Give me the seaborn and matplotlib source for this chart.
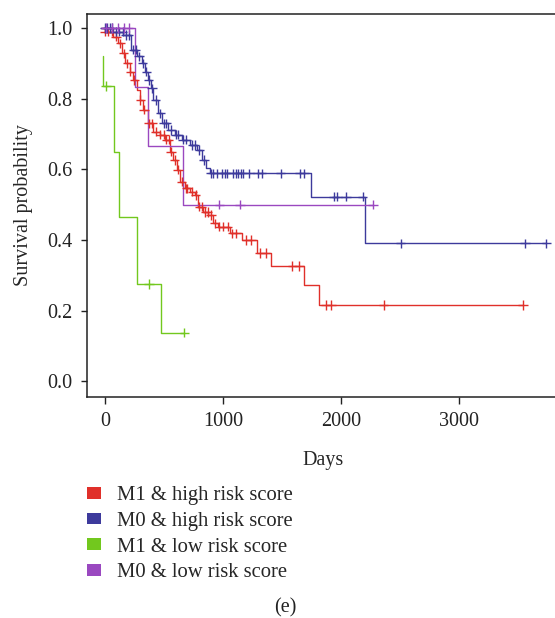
import numpy as np
import pandas as pd
import seaborn as sns
import matplotlib.pyplot as plt
from matplotlib.patches import Patch

groups = ["M1 & high risk score", "M0 & high risk score", "M1 & low risk score", "M0 & low risk score"]
colors = ["#E0302A", "#3D3A9C", "#72C81E", "#9A48C0"]

# step points (day, survival)
red_days = [-30, 0, 70, 113, 141, 169, 212, 240, 268, 297, 325, 367, 409, 466, 508, 551, 579, 613, 636, 678,
            720, 763, 791, 833, 875, 918, 960, 1059, 1158, 1292, 1412, 1690, 1819, 3545]
red_surv = [1.0, 0.99, 0.976, 0.957, 0.929, 0.90, 0.877, 0.853, 0.825, 0.797, 0.769, 0.731, 0.707, 0.698, 0.684,
            0.65, 0.627, 0.599, 0.565, 0.547, 0.537, 0.528, 0.495, 0.48, 0.471, 0.448, 0.438, 0.419, 0.40, 0.364,
            0.327, 0.273, 0.216, 0.216]
red_cens = [0, 30, 60, 95, 130, 160, 190, 215, 250, 300, 330, 370, 400, 430, 470, 500, 520, 540, 560, 590, 620,
            650, 690, 700, 740, 770, 800, 820, 850, 870, 900, 930, 970, 1000, 1040, 1080, 1110, 1200, 1240, 1314,
            1364, 1590, 1646, 1873, 1921, 2364, 3545]

blue_days = [-30, 70, 155, 225, 268, 311, 338, 367, 387, 409, 452, 480, 536, 593, 650, 720, 777, 819, 861, 890,
             1751, 2209, 3742]
blue_surv = [1.0, 0.99, 0.981, 0.939, 0.92, 0.90, 0.877, 0.853, 0.83, 0.797, 0.759, 0.731, 0.712, 0.698, 0.684,
             0.669, 0.655, 0.627, 0.603, 0.589, 0.523, 0.391, 0.391]
blue_cens = [0, 20, 40, 60, 90, 120, 150, 180, 200, 240, 260, 290, 320, 350, 370, 400, 430, 470, 500, 520, 560,
             600, 620, 660, 690, 740, 760, 800, 840, 896, 917, 954, 994, 1017, 1031, 1082, 1110, 1130, 1150, 1167,
             1223, 1299, 1328, 1489, 1653, 1689, 1943, 1968, 2045, 2184, 2508, 3562, 3742]

green_days = [-15, -15, 76, 121, 274, 472, 672]
green_surv = [0.92, 0.836, 0.65, 0.465, 0.276, 0.138, 0.138]
green_cens = [8, 375, 672]

purple_days = [-15, 254, 362, 664, 2274]
purple_surv = [1.0, 0.834, 0.667, 0.5, 0.5]
purple_cens = [10, 60, 110, 160, 200, 969, 1144, 2274]

curves = [(red_days, red_surv, red_cens), (blue_days, blue_surv, blue_cens),
          (green_days, green_surv, green_cens), (purple_days, purple_surv, purple_cens)]

steps, marks = [], []
for g, (d, s, c) in zip(groups, curves):
    steps.append(pd.DataFrame({"day": d, "surv": s, "group": g}))
    d_arr, s_arr = np.array(d), np.array(s)
    idx = np.searchsorted(d_arr, c, side="right") - 1
    marks.append(pd.DataFrame({"day": c, "surv": s_arr[idx], "group": g}))
df_steps = pd.concat(steps, ignore_index=True)
df_marks = pd.concat(marks, ignore_index=True)

sns.set_style("ticks")
plt.rcParams["font.family"] = ["Liberation Serif", "DejaVu Serif"]
plt.rcParams["font.size"] = 14.5

pal = dict(zip(groups, colors))

fig = plt.figure(figsize=(5.55, 6.18), dpi=100)
ax = fig.add_axes([87 / 555, 221 / 618, 472 / 555, 383 / 618])

sns.lineplot(data=df_steps, x="day", y="surv", hue="group", palette=pal, estimator=None, sort=False,
             drawstyle="steps-post", lw=1.0, legend=False, ax=ax)
sns.scatterplot(data=df_marks, x="day", y="surv", hue="group", palette=pal, marker="+", s=45,
                linewidth=1.0, legend=False, ax=ax, zorder=3)

ax.set_xlim(-152, 3850)
ax.set_ylim(-0.044, 1.04)
ax.set_xticks([0, 1000, 2000, 3000])
ax.set_yticks([0.0, 0.2, 0.4, 0.6, 0.8, 1.0])
ax.set_yticklabels(["0.0", "0.2", "0.4", "0.6", "0.8", "1.0"])
ax.tick_params(axis="both", labelsize=14.5, colors="#222222", width=1.0, direction="out")
ax.tick_params(axis="y", length=4.5, pad=6)
ax.tick_params(axis="x", length=5, pad=6)
for sp in ax.spines.values():
    sp.set_linewidth(1.1)
    sp.set_color("#222222")
ax.set_xlabel("Days", fontsize=14.5, labelpad=14)
ax.set_ylabel("Survival probability", fontsize=14.5, labelpad=10)

handles = [Patch(facecolor=c, edgecolor="none", label=g) for g, c in zip(groups, colors)]
fig.legend(handles=handles, loc="upper left", bbox_to_anchor=(87 / 555, 1 - 486 / 618), frameon=False,
           fontsize=14.9, handlelength=0.7, handleheight=0.5, handletextpad=0.73, labelspacing=0.33,
           borderpad=0, borderaxespad=0)

fig.text(285 / 555, 1 - 608 / 618, "(e)", ha="center", va="center", fontsize=14.5, color="#222222")

fig.savefig("out.png", dpi=100)
